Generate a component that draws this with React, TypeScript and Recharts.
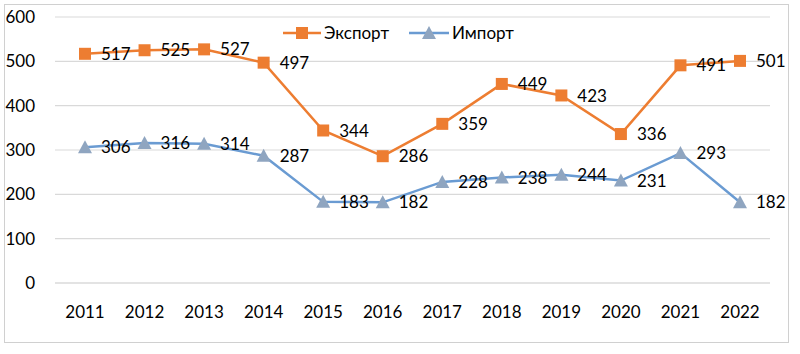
import { LineChart, Line, XAxis, YAxis, CartesianGrid } from "recharts";

const YEARS = ["2011","2012","2013","2014","2015","2016","2017","2018","2019","2020","2021","2022"];
const EXPORT = [517, 525, 527, 497, 344, 286, 359, 449, 423, 336, 491, 501];
const IMPORT = [306, 316, 314, 287, 183, 182, 228, 238, 244, 231, 293, 182];
const Y_TICKS = [0, 100, 200, 300, 400, 500, 600];

const ORANGE = "#ED7D31";
const BLUE_LINE = "#6A9BD2";
const BLUE_MARK = "#8FA5C0";
const FONT = "Lato, 'Open Sans', sans-serif";

const data = YEARS.map((year, i) => ({ year, exp: EXPORT[i], imp: IMPORT[i] }));

function Square(props: any) {
  const { cx, cy } = props;
  if (cx == null || cy == null) return null;
  return <rect x={cx - 6} y={cy - 6} width={12} height={12} fill={ORANGE} />;
}

function Triangle(props: any) {
  const { cx, cy } = props;
  if (cx == null || cy == null) return null;
  return <path d={`M${cx},${cy - 7} L${cx + 7},${cy + 6} L${cx - 7},${cy + 6} Z`} fill={BLUE_MARK} />;
}

function RightLabel(props: any) {
  const { x, y, value } = props;
  return (
    <text x={x + 16} y={y} dy="0.36em" textAnchor="start" fontSize={17} fontFamily={FONT} fill="#000">
      {value}
    </text>
  );
}

export default function App() {
  return (
    <div style={{ position: "absolute", left: 0, top: 0, width: 800, height: 354, background: "#fff" }}>
      <div style={{ position: "absolute", left: 4, top: 4, width: 785, height: 339, border: "1px solid #d0d0d0", boxSizing: "border-box" }} />
      <LineChart width={800} height={354} data={data} margin={{ top: 17, right: 30, left: 0, bottom: 41 }}>
        <CartesianGrid vertical={false} stroke="#D9D9D9" strokeWidth={1.2} />
        <XAxis
          dataKey="year" height={30} tickLine={false} padding={{ left: 30, right: 30 }}
          axisLine={{ stroke: "#D9D9D9", strokeWidth: 1.2 }}
          tick={{ fontSize: 17, fill: "#000", fontFamily: FONT }} tickMargin={17}
        />
        <YAxis
          width={55} domain={[0, 600]} ticks={Y_TICKS} axisLine={false} tickLine={false}
          tick={{ fontSize: 17, fill: "#000", fontFamily: FONT }} tickMargin={14}
        />
        <Line dataKey="exp" stroke={ORANGE} strokeWidth={2.5} dot={<Square />} activeDot={false}
          label={<RightLabel />} isAnimationActive={false} />
        <Line dataKey="imp" stroke={BLUE_LINE} strokeWidth={2.5} dot={<Triangle />} activeDot={false}
          label={<RightLabel />} isAnimationActive={false} />
      </LineChart>
      <div style={{ position: "absolute", left: 283, top: 22, display: "flex", alignItems: "center", fontFamily: FONT, fontSize: 17, color: "#000" }}>
        <svg width={38} height={20}>
          <line x1={0} y1={10} x2={38} y2={10} stroke={ORANGE} strokeWidth={2.5} />
          <rect x={13} y={4} width={12} height={12} fill={ORANGE} />
        </svg>
        <span style={{ marginLeft: 3 }}>Экспорт</span>
        <svg width={40} height={20} style={{ marginLeft: 20 }}>
          <line x1={0} y1={10} x2={40} y2={10} stroke={BLUE_LINE} strokeWidth={2.5} />
          <path d="M20,3 L27,16 L13,16 Z" fill={BLUE_MARK} />
        </svg>
        <span style={{ marginLeft: 3 }}>Импорт</span>
      </div>
    </div>
  );
}
